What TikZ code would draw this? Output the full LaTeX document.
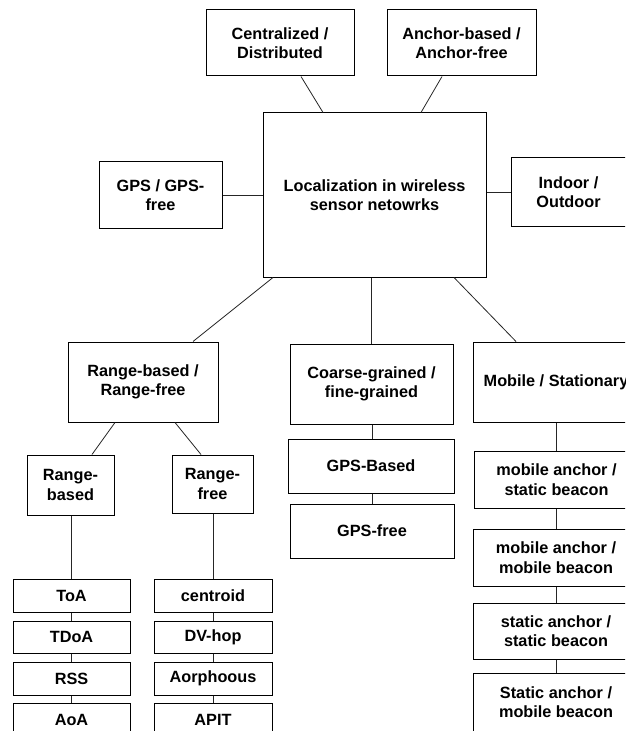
\documentclass[tikz,border=0pt]{standalone}
\usepackage{fontspec}
\setmainfont{Liberation Sans}
\usetikzlibrary{calc}
\begin{document}
\begin{tikzpicture}[x=0.75pt,y=-0.75pt,
  box/.style={draw=black,line width=0.75pt,inner sep=0pt,align=center,
    font=\fontsize{12.2}{14.6}\selectfont\bfseries},
  link/.style={draw=black!85,line width=0.6pt}]
\useasboundingbox (0,0) rectangle (625,731);
\clip (0,0) rectangle (625,731);
% top level
\node[box,minimum width=111pt,minimum height=49.5pt] (cd) at (280,43) {Centralized /\\Distributed};
\node[box,minimum width=111.75pt,minimum height=49.5pt] (ab) at (461.5,43) {Anchor-based /\\Anchor-free};
\node[box,minimum width=167.25pt,minimum height=123pt] (loc) at (374.5,195) {Localization in wireless\\sensor netowrks};
\node[box,minimum width=92.25pt,minimum height=49.5pt] (gps) at (160.5,195) {GPS / GPS-\\free};
\node[box,minimum width=86.25pt,minimum height=51pt] (io) at (568.5,192) {Indoor /\\Outdoor};
% second level
\node[box,minimum width=112.5pt,minimum height=60pt] (rr) at (143,382) {Range-based /\\Range-free};
\node[box,minimum width=122.25pt,minimum height=60pt] (cf) at (371.5,384) {Coarse-grained /\\fine-grained};
\node[box,minimum width=124.5pt,minimum height=60pt] (ms) at (556,382) {Mobile / Stationary};
% range branch
\node[box,minimum width=65.25pt,minimum height=45pt] (rb) at (70.5,485) {Range-\\based};
\node[box,minimum width=60.75pt,minimum height=43.5pt] (rf) at (212.5,484) {Range-\\free};
\node[box,minimum width=87.75pt,minimum height=24.75pt] (toa) at (71.5,595.5) {ToA};
\node[box,minimum width=87.75pt,minimum height=24pt] (tdoa) at (71.5,637) {TDoA};
\node[box,minimum width=87.75pt,minimum height=24.75pt] (rss) at (71.5,678.5) {RSS};
\node[box,minimum width=87.75pt,minimum height=24.75pt] (aoa) at (71.5,719.5) {AoA};
\node[box,minimum width=88.5pt,minimum height=24.75pt] (cen) at (213,595.5) {centroid};
\node[box,minimum width=88.5pt,minimum height=24pt] (dv) at (213,637) {DV-hop};
\node[box,minimum width=88.5pt,minimum height=24.75pt] (aor) at (213,678.5) {Aorphoous};
\node[box,minimum width=88.5pt,minimum height=24.75pt] (apit) at (213,719.5) {APIT};
% coarse branch
\node[box,minimum width=124.5pt,minimum height=40.5pt] (gb) at (371,466) {GPS-Based};
\node[box,minimum width=123pt,minimum height=40.5pt] (gf) at (372,531) {GPS-free};
% mobile branch
\node[box,minimum width=123.75pt,minimum height=42.75pt] (masb) at (556.5,479.5) {mobile anchor /\\static beacon};
\node[box,minimum width=124.5pt,minimum height=42.75pt] (mamb) at (556,557.5) {mobile anchor /\\mobile beacon};
\node[box,minimum width=124.5pt,minimum height=42pt] (sasb) at (556,631) {static anchor /\\static beacon};
\node[box,minimum width=124.5pt,minimum height=43.5pt] (samb) at (556,702) {Static anchor /\\mobile beacon};
% connectors
\draw[link] ($(cd.south)+(21,0)$) -- ($(loc.north)+(-51.5,0)$);
\draw[link] ($(ab.south)+(-19.5,0)$) -- ($(loc.north)+(46.5,0)$);
\draw[link] (gps.east) -- (loc.west);
\draw[link] (io.west) -- (io.west -| loc.east);
\draw[link] ($(loc.south)+(-101.5,0)$) -- ($(rr.north)+(50,0)$);
\draw[link] (cf.north) -- (cf.north |- loc.south);
\draw[link] ($(loc.south)+(79.5,0)$) -- ($(ms.north)+(-40,0)$);
\draw[link] ($(rr.south)+(-28,0)$) -- ($(rb.north)+(21.5,0)$);
\draw[link] ($(rr.south)+(32,0)$) -- ($(rf.north)+(-11.5,0)$);
\draw[link] (cf.south -| gb.north) ++(1,0) -- ($(gb.north)+(1,0)$);
\draw[link] ($(gb.south)+(1,0)$) -- (gf.north);
\draw[link] (ms.south) -- (masb.north -| ms.south);
\draw[link] (masb.south -| mamb.north) -- (mamb.north);
\draw[link] (mamb.south) -- (sasb.north);
\draw[link] (sasb.south) -- (samb.north);
\draw[link] (rb.south -| toa.north) ++(-0.5,0) -- ($(toa.north)+(-0.5,0)$);
\draw[link] (toa.south) -- (tdoa.north);
\draw[link] (tdoa.south) -- (rss.north);
\draw[link] (rss.south) -- (aoa.north);
\draw[link] (rf.south -| cen.north) -- (cen.north);
\draw[link] (cen.south) -- (dv.north);
\draw[link] (dv.south) -- (aor.north);
\draw[link] (aor.south) -- (apit.north);
\end{tikzpicture}
\end{document}
